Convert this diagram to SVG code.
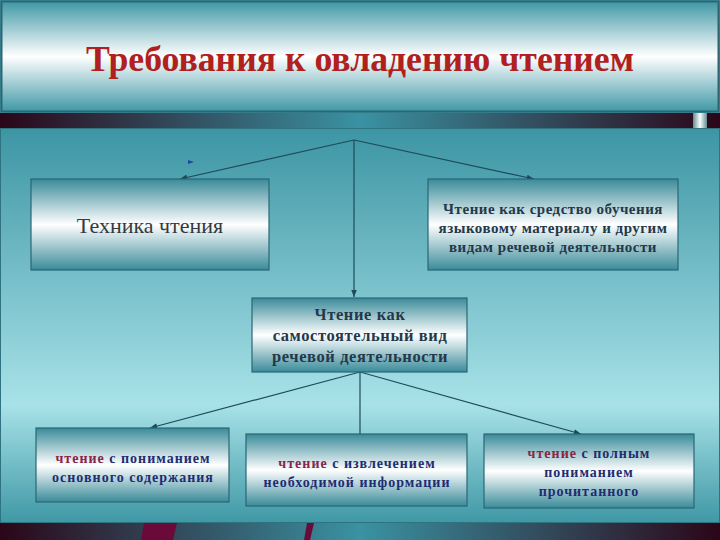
<svg xmlns="http://www.w3.org/2000/svg" width="720" height="540" viewBox="0 0 720 540">
<defs>
<linearGradient id="hdr" x1="0" y1="0" x2="0" y2="1">
<stop offset="0" stop-color="#3f98a6"/>
<stop offset="0.5" stop-color="#ffffff"/>
<stop offset="1" stop-color="#3f98a6"/>
</linearGradient>
<linearGradient id="box" x1="0" y1="0" x2="0" y2="1">
<stop offset="0" stop-color="#3a8b99"/>
<stop offset="0.5" stop-color="#ffffff"/>
<stop offset="1" stop-color="#3a8b99"/>
</linearGradient>
<linearGradient id="panel" x1="0" y1="0" x2="0" y2="1">
<stop offset="0" stop-color="#3d95a4"/>
<stop offset="0.7" stop-color="#a8e2e8"/>
<stop offset="1" stop-color="#3f98a5"/>
</linearGradient>
<linearGradient id="strip" x1="0" y1="0" x2="1" y2="0">
<stop offset="0" stop-color="#2a0618"/>
<stop offset="0.5" stop-color="#3a92a2"/>
<stop offset="1" stop-color="#2a0618"/>
</linearGradient>
<linearGradient id="silver" x1="0" y1="0" x2="1" y2="0">
<stop offset="0" stop-color="#6a8a90"/>
<stop offset="0.5" stop-color="#f4ffff"/>
<stop offset="1" stop-color="#6a8a90"/>
</linearGradient>
<marker id="arr" viewBox="0 0 10 10" refX="10" refY="5" markerWidth="6" markerHeight="6" orient="auto">
<path d="M0,1 L10,5 L0,9 z" fill="#1f4a5a"/>
</marker>
<style>
.node{fill:url(#box);stroke:#2a6676;stroke-width:1.2}
.conn{stroke:#1f4a5a;stroke-width:1.2;fill:none}
.serif{font-family:"Liberation Serif","Times New Roman",serif}
.t1{font-family:"Liberation Serif","Times New Roman",serif;font-weight:bold;font-size:15px;letter-spacing:0.5px;fill:#24384a;text-anchor:middle}
.t3{font-family:"Liberation Serif","Times New Roman",serif;font-weight:bold;font-size:16.5px;letter-spacing:0.6px;fill:#24384a;text-anchor:middle}
.t2{font-family:"Liberation Serif","Times New Roman",serif;font-weight:bold;font-size:14px;fill:#1d2d72;text-anchor:middle;letter-spacing:1px}
.red{fill:#8a2448}
</style>
</defs>
<rect x="0" y="0" width="720" height="540" fill="#3d95a4"/>
<g id="header">
<rect x="1.5" y="1.5" width="717" height="110" fill="url(#hdr)" stroke="#2f6470" stroke-width="2"/>
<text class="serif" x="360" y="71" font-weight="bold" font-size="35" fill="#b0201e" text-anchor="middle" textLength="548" lengthAdjust="spacingAndGlyphs">Требования к овладению чтением</text>
</g>
<rect x="0" y="113" width="720" height="15" fill="url(#strip)"/>
<rect x="693" y="113" width="14" height="15" fill="url(#silver)"/>
<rect x="0.5" y="128.5" width="719" height="394" fill="url(#panel)" stroke="#2f7280" stroke-width="1"/>
<g id="bottom-strip">
<rect x="0" y="523" width="720" height="17" fill="url(#strip)"/>
<polygon points="144,523 177,523 173,540 141,540" fill="#6a0a38"/>
<polygon points="307,523 314,523 310,540 304,540" fill="#6a0a38"/>
</g>
<g id="connectors">
<line class="conn" x1="354" y1="140" x2="180" y2="179" marker-end="url(#arr)"/>
<line class="conn" x1="354" y1="140" x2="534" y2="179" marker-end="url(#arr)"/>
<line class="conn" x1="354" y1="140" x2="354" y2="297" marker-end="url(#arr)"/>
<line class="conn" x1="360" y1="372" x2="150" y2="428" marker-end="url(#arr)"/>
<line class="conn" x1="360" y1="372" x2="360" y2="434"/>
<line class="conn" x1="360" y1="372" x2="581" y2="434" marker-end="url(#arr)"/>
<polygon points="188,160 194,162 188,164" fill="#1a4a9a"/>
</g>
<g id="n1">
<rect class="node" x="31" y="179" width="238" height="91"/>
<text class="serif" x="150" y="233" font-size="22" fill="#333a40" text-anchor="middle">Техника чтения</text>
</g>
<g id="n2">
<rect class="node" x="428" y="179" width="250" height="91"/>
<text class="t1" x="553" y="214">Чтение как средство обучения</text>
<text class="t1" x="553" y="233">языковому материалу и другим</text>
<text class="t1" x="553" y="252">видам речевой деятельности</text>
</g>
<g id="n3">
<rect class="node" x="252" y="298" width="215" height="74"/>
<text class="t3" x="360" y="320">Чтение как</text>
<text class="t3" x="360" y="341">самостоятельный вид</text>
<text class="t3" x="360" y="362">речевой деятельности</text>
</g>
<g id="n4">
<rect class="node" x="36" y="428" width="193" height="74"/>
<text class="t2" x="133" y="463"><tspan class="red">чтение</tspan> с пониманием</text>
<text class="t2" x="133" y="482">основного содержания</text>
</g>
<g id="n5">
<rect class="node" x="246" y="434" width="221" height="72"/>
<text class="t2" x="357" y="468"><tspan class="red">чтение</tspan> с извлечением</text>
<text class="t2" x="357" y="487">необходимой информации</text>
</g>
<g id="n6">
<rect class="node" x="484" y="434" width="210" height="74"/>
<text class="t2" x="589" y="458"><tspan class="red">чтение</tspan> с полным</text>
<text class="t2" x="589" y="477">пониманием</text>
<text class="t2" x="589" y="496">прочитанного</text>
</g>
</svg>
